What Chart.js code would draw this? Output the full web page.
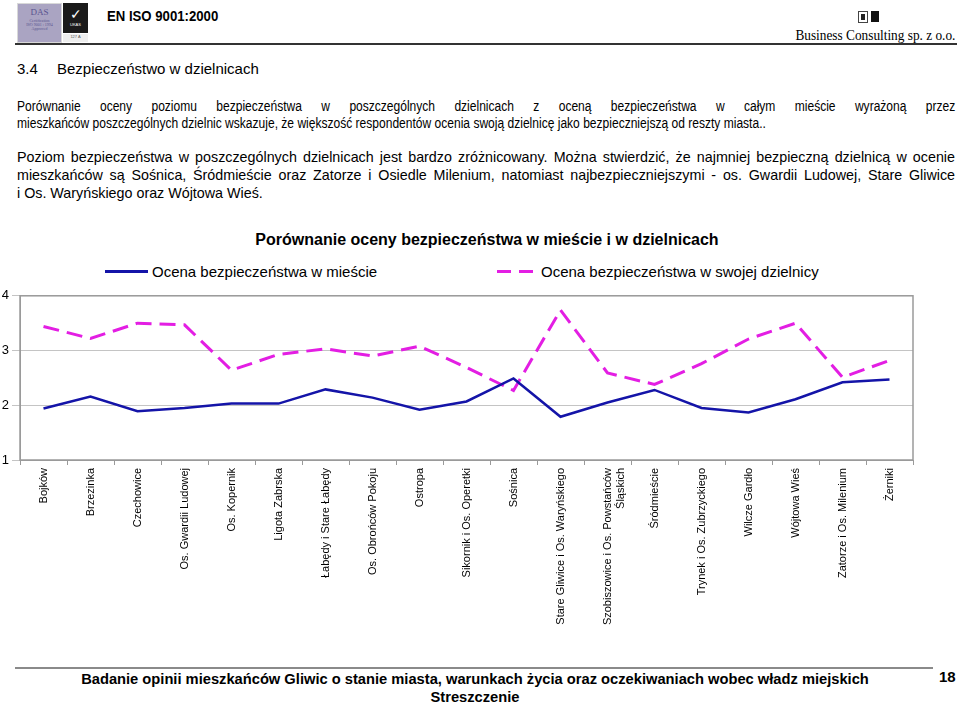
<!DOCTYPE html>
<html lang="pl">
<head>
<meta charset="UTF-8">
<title>Porównanie oceny bezpieczeństwa w mieście i w dzielnicach</title>
<script src="https://cdn.jsdelivr.net/npm/chart.js"></script>
<style>
  html, body { margin: 0; padding: 0; background: #fff; }
  body { width: 960px; height: 703px; position: relative; overflow: hidden;
         font-family: "Liberation Sans", Arial, sans-serif; color: #000; }
  .abs { position: absolute; white-space: nowrap; }
  .jl { text-align: justify; text-align-last: justify; }
  #chart { position: absolute; left: 0; top: 285px; }
</style>
</head>
<body>
<script>
// dane z wykresu
const dzielnice = [
  'Bojków', 'Brzezinka', 'Czechowice', 'Os. Gwardii Ludowej', 'Os. Kopernik',
  'Ligota Zabrska', 'Łabędy i Stare Łabędy', 'Os. Obrońców Pokoju', 'Ostropa',
  'Sikornik i Os. Operetki', 'Sośnica', 'Stare Gliwice i Os. Waryńskiego',
  ['Szobiszowice i Os. Powstańców', 'Śląskich'], 'Śródmieście',
  'Trynek i Os. Zubrzyckiego', 'Wilcze Gardło', 'Wójtowa Wieś',
  'Zatorze i Os. Milenium', 'Żerniki'
];
const ocenaMiasto = [1.94, 2.16, 1.89, 1.95, 2.03, 2.03, 2.29, 2.14, 1.92, 2.07,
                     2.49, 1.79, 2.05, 2.28, 1.95, 1.87, 2.11, 2.42, 2.47];
const ocenaDzielnica = [3.44, 3.22, 3.50, 3.47, 2.64, 2.93, 3.03, 2.90, 3.08, 2.69,
                        2.27, 3.74, 2.59, 2.38, 2.76, 3.21, 3.50, 2.51, 2.82];
const osY = [1, 2, 3, 4];
</script>

<!-- naglowek -->
<div class="abs" style="left:17px;top:3px;width:43px;height:38px;background:#aaa4c2;border:1px solid #d8d8d8;
     font-family:'Liberation Serif',serif;color:#5a5490;text-align:center;line-height:1">
  <div style="font-size:9px;margin-top:4px">DAS</div>
  <div style="font-size:4px;margin-top:2px">Certification<br>ISO 9001 : 1994<br>Approved</div>
</div>
<div class="abs" style="left:63px;top:3px;width:25px;height:30px;background:#1a1a1a;color:#fff;text-align:center;line-height:1">
  <div style="font-size:14px;margin-top:4px">✓</div>
  <div style="font-size:4px;margin-top:2px">UKAS</div>
</div>
<div class="abs" style="left:63px;top:34px;width:25px;height:8px;background:#eee;font-size:4px;text-align:center;color:#555">127 A</div>
<div class="abs" style="left:107px;top:6px;line-height:20px;font-size:14px;font-weight:bold;transform:scaleX(0.94);transform-origin:left">EN ISO 9001:2000</div>

<div class="abs" style="left:858px;top:11px;width:8px;height:10px;border:1px solid #444;background:#fff"></div>
<div class="abs" style="left:861px;top:14px;width:4px;height:6px;background:#222"></div>
<div class="abs" style="left:871px;top:11px;width:8px;height:11px;background:#111"></div>
<div class="abs" style="right:5px;top:27px;line-height:18px;font-size:14px;font-family:'Liberation Serif',serif;transform:scaleX(0.95);transform-origin:right">Business Consulting sp. z o.o.</div>
<div class="abs" style="left:15px;top:43px;width:942px;height:0;border-top:2px solid #333"></div>

<!-- tekst -->
<div class="abs" style="left:17px;top:59px;line-height:20px;font-size:15px">3.4</div>
<div class="abs" style="left:57px;top:59px;line-height:20px;font-size:15px">Bezpieczeństwo w dzielnicach</div>

<div class="abs" style="left:17px;top:98px;width:1091px;font-size:14px;line-height:17px;transform:scaleX(0.86);transform-origin:left">
  <div class="jl">Porównanie oceny poziomu bezpieczeństwa w poszczególnych dzielnicach z oceną bezpieczeństwa w całym mieście wyrażoną przez</div>
  <div>mieszkańców poszczególnych dzielnic wskazuje, że większość respondentów ocenia swoją dzielnicę jako bezpieczniejszą od reszty miasta..</div>
</div>

<div class="abs" style="left:17px;top:148px;width:938px;font-size:14.3px;line-height:18px">
  <div class="jl">Poziom bezpieczeństwa w poszczególnych dzielnicach jest bardzo zróżnicowany. Można stwierdzić, że najmniej bezpieczną dzielnicą w ocenie</div>
  <div class="jl">mieszkańców są Sośnica, Śródmieście oraz Zatorze i Osiedle Milenium, natomiast najbezpieczniejszymi - os. Gwardii Ludowej, Stare Gliwice</div>
  <div>i Os. Waryńskiego oraz Wójtowa Wieś.</div>
</div>

<!-- tytul i legenda wykresu -->
<div class="abs" style="left:0;width:974px;top:230px;line-height:20px;font-size:16px;font-weight:bold;text-align:center">Porównanie oceny bezpieczeństwa w mieście i w dzielnicach</div>
<div class="abs" style="left:105px;top:270px;width:43px;border-top:3px solid #1414a8"></div>
<div class="abs" style="left:152px;top:262px;line-height:19px;font-size:15px">Ocena bezpieczeństwa w mieście</div>
<div class="abs" style="left:497px;top:270px;width:14px;border-top:3px solid #e31ee3"></div>
<div class="abs" style="left:519px;top:270px;width:14px;border-top:3px solid #e31ee3"></div>
<div class="abs" style="left:541px;top:262px;line-height:19px;font-size:15px">Ocena bezpieczeństwa w swojej dzielnicy</div>

<canvas id="chart" width="960" height="360"></canvas>

<!-- stopka -->
<div class="abs" style="left:15px;top:667px;width:918px;border-top:2px solid #8a8a8a"></div>
<div class="abs" style="left:0;width:950px;top:670px;line-height:18px;font-size:14.7px;font-weight:bold;text-align:center">Badanie opinii mieszkańców Gliwic o stanie miasta, warunkach życia oraz oczekiwaniach wobec władz miejskich<br>Streszczenie</div>
<div class="abs" style="left:939px;top:667px;line-height:20px;font-size:15px;font-weight:bold">18</div>

<script>
  // ramka obszaru wykresu
  const ramka = {
    id: 'ramka',
    beforeDatasetsDraw(chart) {
      const a = chart.chartArea, ctx = chart.ctx;
      ctx.save();
      ctx.strokeStyle = '#9a9a9a';
      ctx.lineWidth = 1.5;
      ctx.strokeRect(a.left, a.top, a.right - a.left, a.bottom - a.top);
      ctx.restore();
    }
  };

  const ctx = document.getElementById('chart').getContext('2d');
  new Chart(ctx, {
    type: 'line',
    data: {
      labels: dzielnice,
      datasets: [
        {
          label: 'Ocena bezpieczeństwa w mieście',
          data: ocenaMiasto,
          borderColor: '#1414a8',
          borderWidth: 2.5,
          pointRadius: 0,
          tension: 0,
          fill: false
        },
        {
          label: 'Ocena bezpieczeństwa w swojej dzielnicy',
          data: ocenaDzielnica,
          borderColor: '#e31ee3',
          borderWidth: 3,
          borderDash: [16, 8],
          pointRadius: 0,
          tension: 0,
          fill: false
        }
      ]
    },
    options: {
      responsive: false,
      animation: false,
      layout: { padding: { top: 10, right: 47, left: 0, bottom: 0 } },
      plugins: {
        legend: { display: false },
        title: { display: false },
        tooltip: { enabled: false }
      },
      scales: {
        x: {
          offset: true,
          grid: { display: true, drawOnChartArea: false, offset: true, tickLength: 5, color: '#9a9a9a' },
          border: { color: '#9a9a9a' },
          ticks: {
            autoSkip: false,
            minRotation: 90,
            maxRotation: 90,
            padding: 3,
            color: '#000',
            font: { family: "'Liberation Sans', Arial", size: 11 }
          },
          afterFit(s) { s.height = 185; }
        },
        y: {
          min: osY[0],
          max: osY[osY.length - 1],
          grid: { color: '#c4c4c4', tickLength: 8 },
          border: { color: '#9a9a9a' },
          ticks: {
            stepSize: 1,
            padding: 3,
            color: '#000',
            font: { family: "'Liberation Sans', Arial", size: 13 }
          },
          afterFit(s) { s.width = 20; }
        }
      }
    },
    plugins: [ramka]
  });
</script>
</body>
</html>
